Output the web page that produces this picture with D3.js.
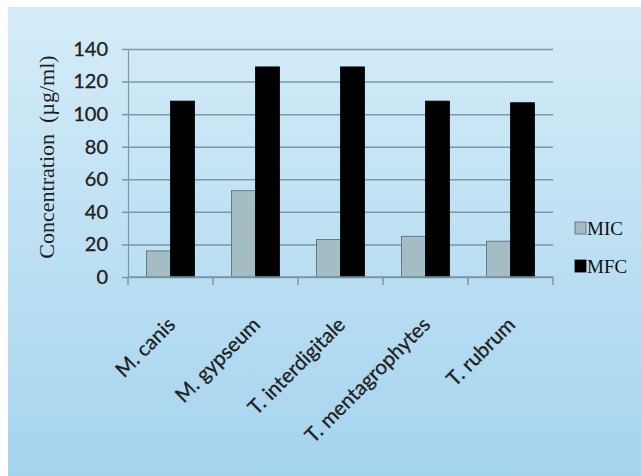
<!DOCTYPE html>
<html>
<head>
<meta charset="utf-8">
<script src="https://cdn.jsdelivr.net/npm/d3@7"></script>
<style>
  html, body { margin: 0; padding: 0; background: #ffffff; }
  svg { display: block; }
</style>
</head>
<body>
<div id="chart"></div>
<script>
const categories = ["M. canis", "M. gypseum", "T. interdigitale", "T. mentagrophytes", "T. rubrum"];
const seriesNames = ["MIC", "MFC"];
const micValues = [16, 53, 23, 25, 22];
const mfcValues = [108, 129, 129, 108, 107];
const yTicks = [0, 20, 40, 60, 80, 100, 120, 140];
const yTitle = "Concentration\u00a0 (\u00b5g/ml)";
const seriesColors = { MIC: "#a4bdc5", MFC: "#000000" };

const W = 641, H = 476;
const svg = d3.select("#chart").append("svg").attr("width", W).attr("height", H);

// background gradient panel
const defs = svg.append("defs");
const grad = defs.append("linearGradient").attr("id", "bg").attr("x1", 0).attr("y1", 0).attr("x2", 0).attr("y2", 1);
grad.append("stop").attr("offset", "0%").attr("stop-color", "#d5ecf8");
grad.append("stop").attr("offset", "100%").attr("stop-color", "#a5d4ee");
svg.append("rect").attr("x", 8).attr("y", 7).attr("width", W - 8).attr("height", H - 7).attr("fill", "url(#bg)");

const plotLeft = 128, plotRight = 553, plotTop = 49, plotBottom = 277;

const x0 = d3.scaleBand().domain(categories).range([plotLeft, plotRight]).padding(0);
const groupFrac = 0.565;
const x1 = d3.scaleBand().domain(seriesNames).range([0, x0.bandwidth() * groupFrac]).padding(0);
const groupOffset = x0.bandwidth() * (1 - groupFrac) / 2;
const y = d3.scaleLinear().domain([0, 140]).range([plotBottom, plotTop]);

const gridColor = "#7c97a6";

// gridlines
const grid = svg.append("g").attr("transform", `translate(${plotLeft},0)`)
  .call(d3.axisLeft(y).tickValues(yTicks).tickSize(-(plotRight - plotLeft)).tickFormat(""));
grid.select(".domain").remove();
grid.selectAll("line").attr("stroke", gridColor).attr("stroke-width", 1.5);

// y axis with labels and left stubs
const yAxis = svg.append("g").attr("transform", `translate(${plotLeft},0)`)
  .call(d3.axisLeft(y).tickValues(yTicks).tickSize(6).tickPadding(14));
yAxis.select(".domain").attr("stroke", gridColor).attr("stroke-width", 1.2);
yAxis.selectAll("line").attr("stroke", gridColor).attr("stroke-width", 1.5);
yAxis.selectAll("text").attr("font-family", "Lato, 'Open Sans', sans-serif").attr("font-size", 20)
  .attr("fill", "#1e1e1e").attr("stroke", "#1e1e1e").attr("stroke-width", 0.3);

// bars
const rows = categories.map((c, i) => ({ cat: c, MIC: micValues[i], MFC: mfcValues[i] }));
const groups = svg.append("g").selectAll("g").data(rows).join("g")
  .attr("transform", d => `translate(${x0(d.cat) + groupOffset},0)`);
groups.selectAll("rect").data(d => seriesNames.map(s => ({ s, v: d[s] }))).join("rect")
  .attr("x", d => x1(d.s))
  .attr("y", d => y(d.v))
  .attr("width", x1.bandwidth())
  .attr("height", d => y(0) - y(d.v))
  .attr("fill", d => seriesColors[d.s])
  .attr("stroke", d => d.s === "MIC" ? "#56676e" : "#000")
  .attr("stroke-width", 0.8);

// x axis line and boundary ticks
const xAxisG = svg.append("g");
xAxisG.append("line").attr("x1", plotLeft).attr("x2", plotRight).attr("y1", y(0)).attr("y2", y(0))
  .attr("stroke", gridColor).attr("stroke-width", 1.5);
const boundaries = categories.map(c => x0(c)).concat([x0(categories[categories.length - 1]) + x0.bandwidth()]);
xAxisG.selectAll("line.tk").data(boundaries).join("line").attr("class", "tk")
  .attr("x1", d => d).attr("x2", d => d).attr("y1", y(0)).attr("y2", y(0) + 8)
  .attr("stroke", gridColor).attr("stroke-width", 1.5);

// x labels
svg.append("g").selectAll("text").data(categories).join("text")
  .attr("transform", d => `translate(${x0(d) + x0.bandwidth() / 2 + 6},${y(0) + 49}) rotate(-45)`)
  .attr("text-anchor", "end")
  .attr("font-family", "Lato, 'Open Sans', sans-serif")
  .attr("font-size", 20.5)
  .attr("fill", "#1e1e1e").attr("stroke", "#1e1e1e").attr("stroke-width", 0.3)
  .text(d => d);

// y title
svg.append("text")
  .attr("transform", `translate(${54},${157}) rotate(-90)`)
  .attr("text-anchor", "middle")
  .attr("font-family", "'Liberation Serif', 'Times New Roman', serif")
  .attr("font-size", 22)
  .attr("fill", "#1e1e1e")
  .text(yTitle);

// legend
const legend = svg.append("g").attr("transform", "translate(575,222)");
seriesNames.forEach((s, i) => {
  const g = legend.append("g").attr("transform", `translate(0,${i * 38})`);
  g.append("rect").attr("x", 0).attr("y", 0).attr("width", 11).attr("height", 12)
    .attr("fill", seriesColors[s]).attr("stroke", s === "MIC" ? "#56676e" : "#000").attr("stroke-width", 0.8);
  g.append("text").attr("x", 12).attr("y", 12.5)
    .attr("font-family", "'Liberation Serif', 'Times New Roman', serif")
    .attr("font-size", 19).attr("fill", "#111").text(s);
});
</script>
</body>
</html>
